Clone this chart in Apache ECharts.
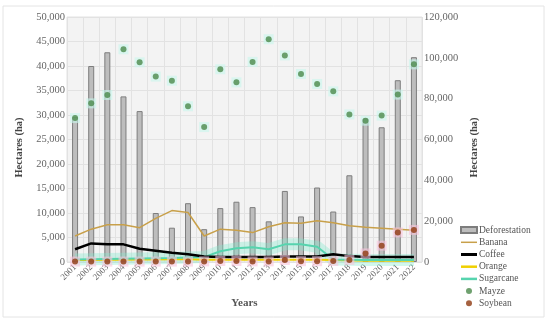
<!DOCTYPE html>
<html><head><meta charset="utf-8">
<script src="https://cdn.jsdelivr.net/npm/echarts@6/dist/echarts.min.js"></script>
<style>html,body{margin:0;padding:0;background:#fff}#c{width:550px;height:323px}</style>
</head><body><div id="c"></div>
<script>
const years = ['2001','2002','2003','2004','2005','2006','2007','2008','2009','2010','2011','2012','2013','2014','2015','2016','2017','2018','2019','2020','2021','2022'];
const deforestation = [29600, 40000, 42800, 33800, 30800, 10000, 7000, 12000, 6700, 11000, 12300, 11200, 8300, 14500, 9300, 15200, 10300, 17700, 29300, 27500, 37100, 41800];
const banana = [5300, 6700, 7600, 7600, 7000, 8900, 10500, 10100, 5300, 6700, 6500, 6000, 7200, 8000, 7900, 8400, 8000, 7400, 7100, 6900, 6700, 6500];
const coffee = [2600, 3800, 3600, 3600, 2700, 2300, 1900, 1600, 1100, 1000, 1000, 1000, 1000, 1100, 1100, 1100, 1600, 1200, 1000, 1000, 1000, 1000];
const orange = [400, 400, 450, 450, 500, 500, 550, 550, 450, 450, 450, 450, 450, 450, 450, 450, 400, 350, 250, 250, 250, 250];
const sugarcane = [500, 550, 600, 650, 700, 750, 800, 900, 1000, 2200, 2800, 3000, 2600, 3600, 3600, 3100, 500, 450, 400, 400, 400, 400];
const mayze = [70500, 77700, 81800, 104200, 97800, 90800, 88800, 76300, 66100, 94400, 88000, 98000, 109100, 101200, 92100, 87200, 83600, 72300, 69200, 71700, 82000, 96800];
const soybean = [200, 200, 200, 200, 200, 200, 200, 200, 300, 500, 500, 300, 300, 1000, 400, 400, 500, 1000, 4200, 8000, 14500, 15700];
const leftTicks = {min: 0, max: 50000, interval: 5000};
const rightTicks = {min: 0, max: 120000, interval: 20000};

const serif = 'Liberation Serif';
const fmt = v => Number(v).toLocaleString('en-US');
const lineIcon = h => 'path://M0,0h32v' + h + 'h-32z';
const chart = echarts.init(document.getElementById('c'), null, {renderer: 'canvas'});
chart.setOption({
  animation: false,
  backgroundColor: '#fff',
  graphic: [{type: 'rect', shape: {x: 3, y: 6, width: 541, height: 311}, style: {fill: 'none', stroke: '#e4e4e4', lineWidth: 1}, silent: true, z: -10}],
  grid: {left: 67, right: 128, top: 17, bottom: 61, show: true, backgroundColor: '#f3f3f3', borderColor: '#e2e2e2', borderWidth: 1},
  legend: {
    orient: 'vertical', left: 455, top: 219, itemWidth: 16, itemHeight: 6, itemGap: 0,
    textStyle: {fontFamily: serif, fontSize: 9.5, color: '#555', lineHeight: 12.2, padding: [0, 0, 0, -3]},
    data: [
      {name: 'Deforestation', icon: 'rect'},
      {name: 'Banana', icon: lineIcon(3)},
      {name: 'Coffee', icon: lineIcon(6)},
      {name: 'Orange', icon: lineIcon(5)},
      {name: 'Sugarcane', icon: lineIcon(5)},
      {name: 'Mayze', icon: 'circle'}, {name: 'Soybean', icon: 'circle'}
    ]
  },
  xAxis: {
    type: 'category', data: years, boundaryGap: true,
    axisLine: {show: false}, axisTick: {show: false},
    axisLabel: {rotate: 45, interval: 0, fontFamily: serif, fontSize: 9, color: '#666', margin: 4},
    splitLine: {show: true, interval: 0, lineStyle: {color: '#e2e2e2'}},
    name: 'Years', nameLocation: 'middle', nameGap: 36,
    nameTextStyle: {fontFamily: serif, fontWeight: 'bold', fontSize: 11, color: '#555'}
  },
  yAxis: [
    {type: 'value', min: leftTicks.min, max: leftTicks.max, interval: leftTicks.interval,
     axisLine: {show: false}, axisTick: {show: false},
     axisLabel: {fontFamily: serif, fontSize: 10.5, color: '#666', formatter: fmt, margin: 2},
     splitLine: {lineStyle: {color: '#e2e2e2'}},
     name: 'Hectares (ha)', nameLocation: 'middle', nameRotate: 90, nameGap: 37,
     nameTextStyle: {fontFamily: serif, fontWeight: 'bold', fontSize: 10.5, color: '#444', padding: [0, 16, 0, 0]}},
    {type: 'value', min: rightTicks.min, max: rightTicks.max, interval: rightTicks.interval,
     axisLine: {show: false}, axisTick: {show: false},
     axisLabel: {fontFamily: serif, fontSize: 10.5, color: '#666', formatter: fmt, margin: 2},
     splitLine: {show: false},
     name: 'Hectares (ha)', nameLocation: 'middle', nameRotate: 90, nameGap: 30,
     nameTextStyle: {fontFamily: serif, fontWeight: 'bold', fontSize: 10.5, color: '#444', padding: [0, 16, 0, 0]}}
  ],
  series: [
    {name: 'Deforestation', type: 'bar', yAxisIndex: 0, data: deforestation, barWidth: 6,
     itemStyle: {color: '#bdbdbd', borderColor: '#7d7d7d', borderWidth: 1}, z: 1},
    {name: 'SugarcaneHalo', type: 'line', yAxisIndex: 0, data: sugarcane, symbol: 'none',
     lineStyle: {color: '#7fe8cc', width: 12, opacity: 0.35}, z: 2, silent: true},
    {name: 'Banana', type: 'line', yAxisIndex: 0, data: banana, symbol: 'none',
     lineStyle: {color: '#c8a04a', width: 1.5}, itemStyle: {color: '#c8a04a'}, z: 3},
    {name: 'Coffee', type: 'line', yAxisIndex: 0, data: coffee, symbol: 'none',
     lineStyle: {color: '#000', width: 2.5}, itemStyle: {color: '#000'}, z: 4},
    {name: 'Orange', type: 'line', yAxisIndex: 0, data: orange, symbol: 'none',
     lineStyle: {color: '#f0d000', width: 2}, itemStyle: {color: '#f0d000'}, z: 3},
    {name: 'Sugarcane', type: 'line', yAxisIndex: 0, data: sugarcane, symbol: 'none',
     lineStyle: {color: '#56d4ae', width: 2}, itemStyle: {color: '#56d4ae'}, z: 3},
    {name: 'MayzeHalo', type: 'scatter', yAxisIndex: 1, data: mayze, symbol: 'rect', symbolSize: 10,
     itemStyle: {color: '#c8f6ec', opacity: 0.6}, z: 4, silent: true},
    {name: 'SoybeanHalo', type: 'scatter', yAxisIndex: 1, data: soybean, symbol: 'rect', symbolSize: 10,
     itemStyle: {color: '#f8c4dc', opacity: 0.6}, z: 4, silent: true},
    {name: 'Mayze', type: 'scatter', yAxisIndex: 1, data: mayze, symbol: 'circle', symbolSize: 6,
     itemStyle: {color: '#4b8a4b'}, z: 5},
    {name: 'Soybean', type: 'scatter', yAxisIndex: 1, data: soybean, symbol: 'circle', symbolSize: 6,
     itemStyle: {color: '#8e3a10'}, z: 5}
  ]
});
</script></body></html>
